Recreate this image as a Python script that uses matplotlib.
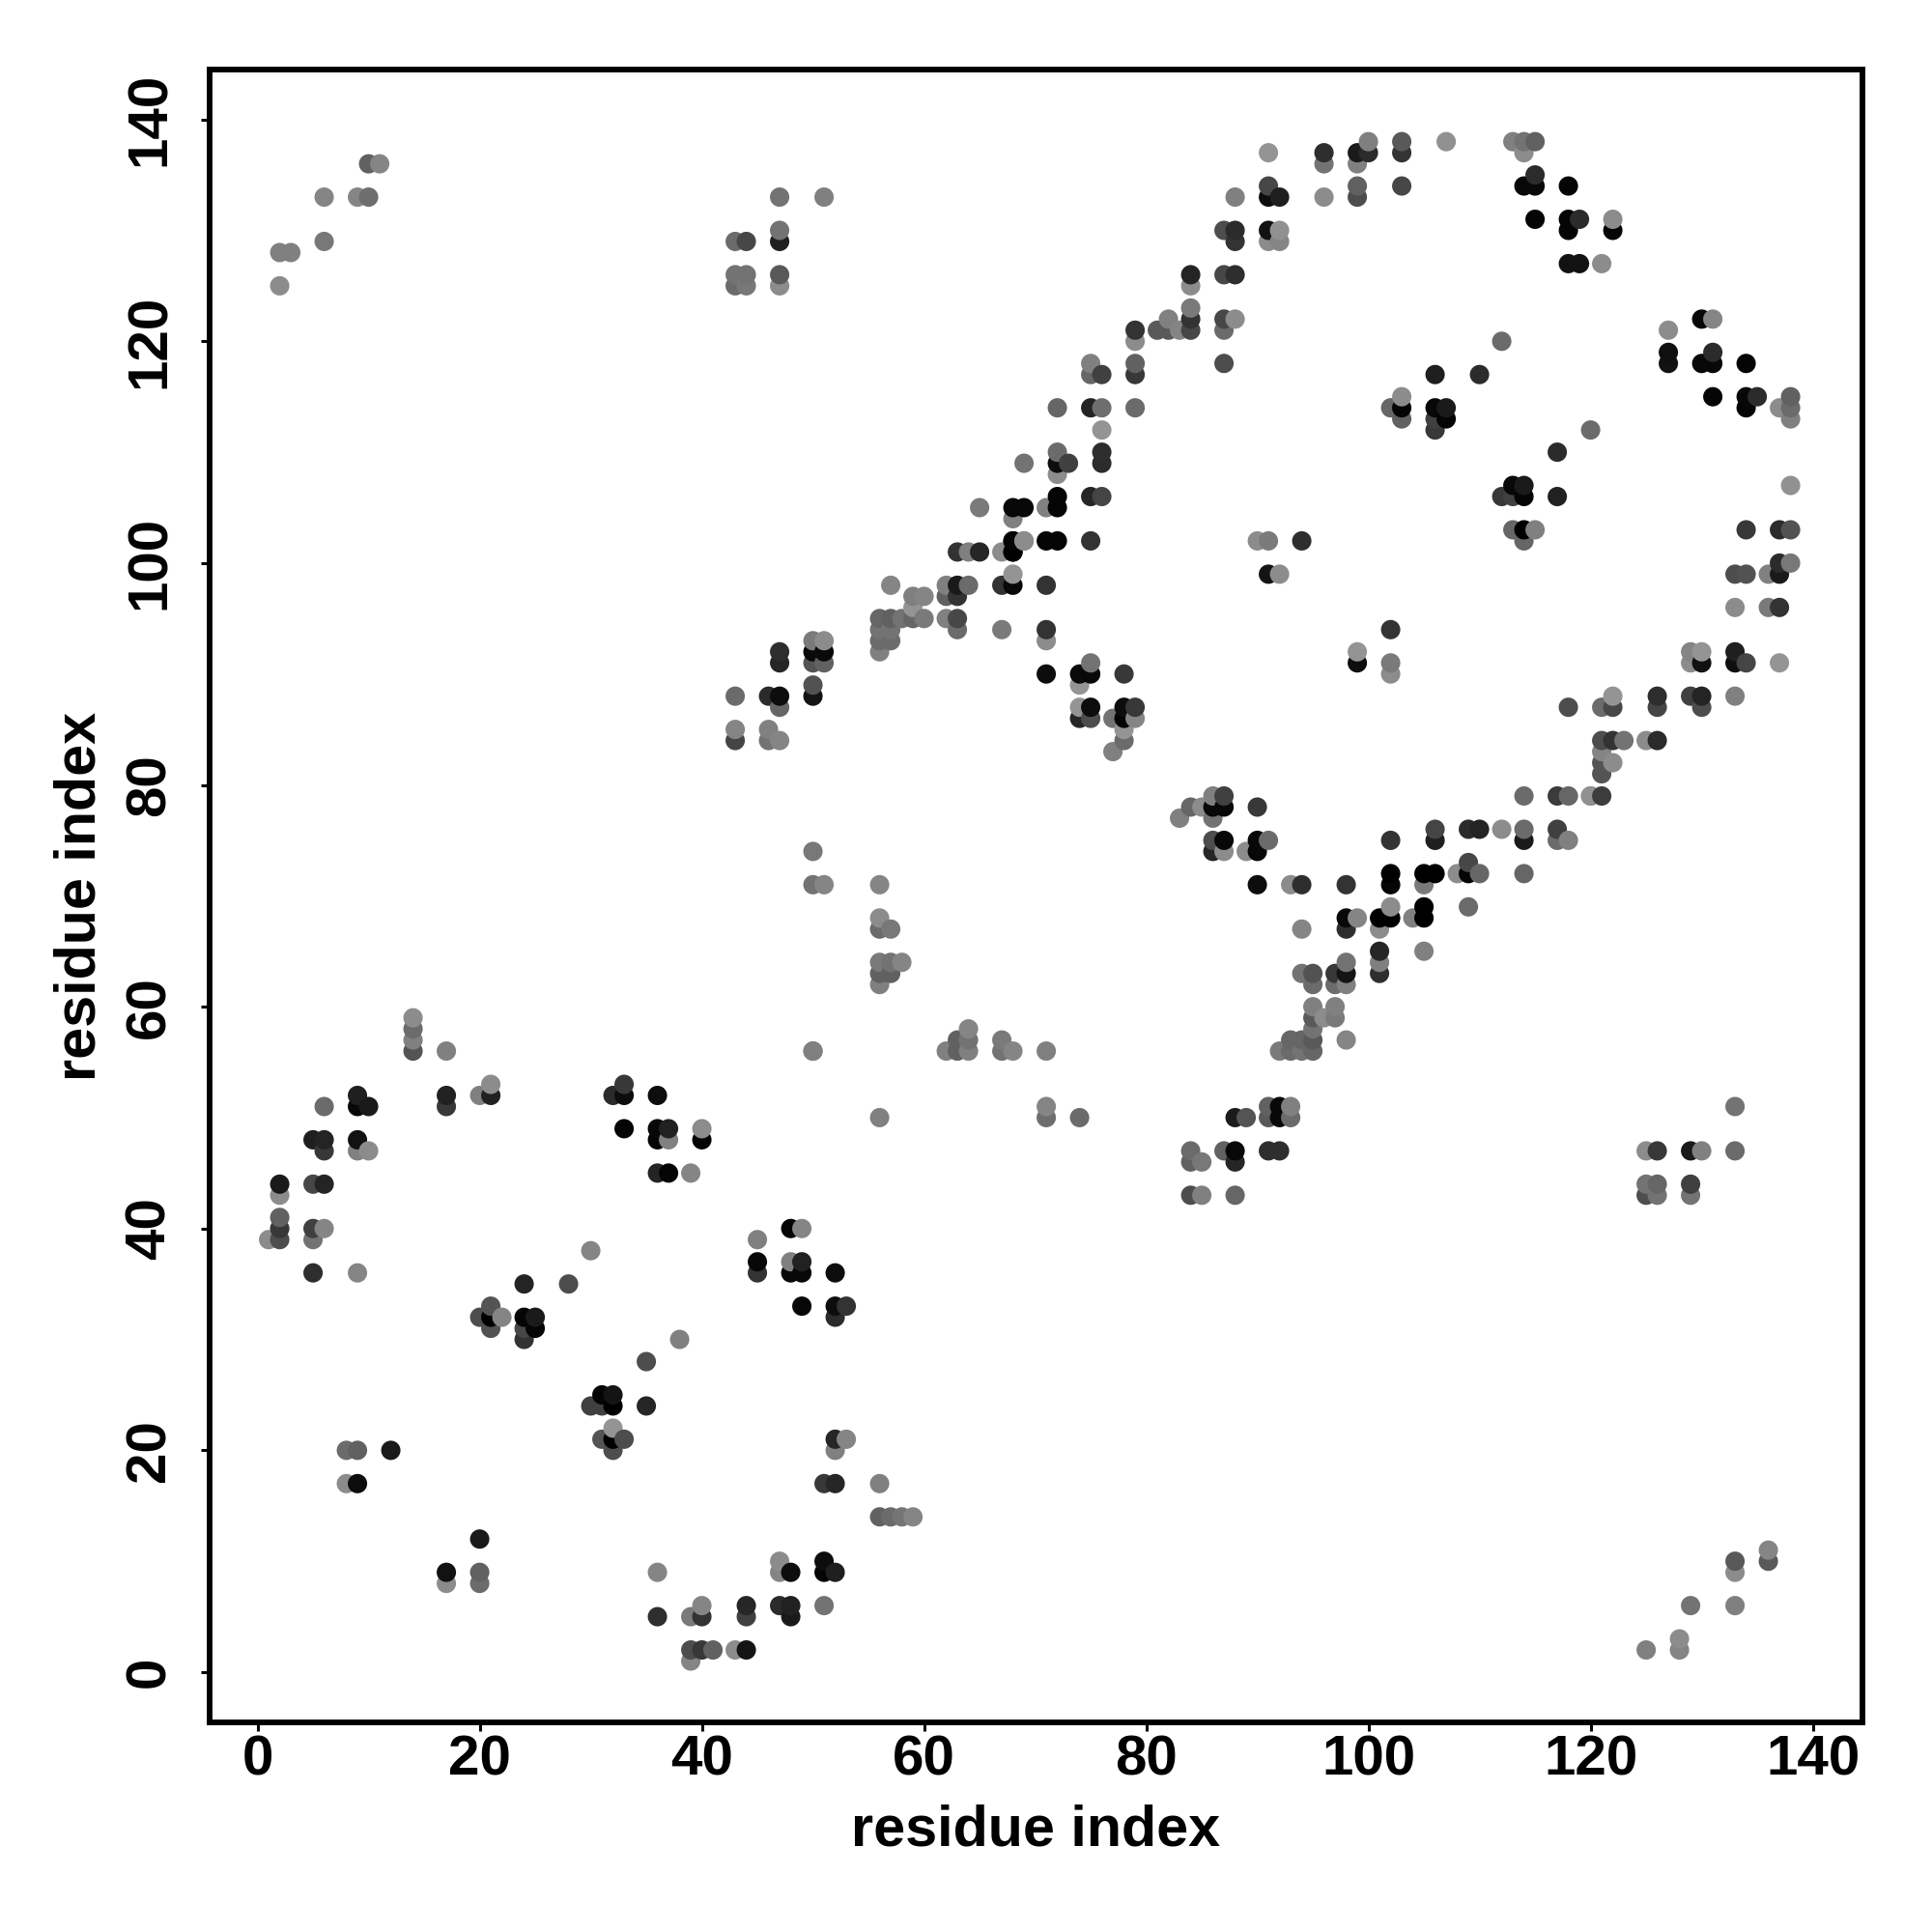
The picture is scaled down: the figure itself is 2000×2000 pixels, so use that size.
#!/usr/bin/env python3
"""Residue contact map drawn as grey dots, later residues painted on top."""
import numpy as np
import matplotlib
matplotlib.use("Agg")
import matplotlib.pyplot as plt

plt.rcParams["font.family"] = ["Liberation Sans", "DejaVu Sans"]
plt.rcParams["font.weight"] = "bold"

# lower left block
low_i = [14, 14, 14, 14, 17, 21, 20, 21, 17, 17,
         6, 9, 9, 10, 5, 6, 6, 9, 9, 10,
         2, 2, 5, 6, 2, 2, 2, 1, 5, 6,
         5, 5, 9, 30, 24, 28, 21, 20, 21, 22,
         21, 24, 25, 24, 25, 24, 38, 33, 32, 33,
         36, 33, 36, 37, 36, 37, 40, 40, 36, 37,
         39, 45, 45, 45, 48, 49, 48, 49, 48, 49,
         52, 49, 52, 53, 52,
         8, 9, 12, 8, 9, 20, 17, 17, 20, 20,
         35, 31, 32, 30, 31, 32, 35, 32, 31, 32,
         33, 32, 36, 36, 39, 40, 40, 44, 44, 39,
         39, 40, 41, 43, 44, 47, 47, 48, 47, 48,
         48, 51, 51, 52, 51, 52, 53, 52, 51, 52,
         56, 56, 57, 58, 59]
low_j = [59, 58, 57, 56, 56, 53, 52, 52, 52, 51,
         51, 52, 51, 51, 48, 48, 47, 48, 47, 47,
         44, 43, 44, 44, 41, 40, 39, 39, 40, 40,
         39, 36, 36, 38, 35, 35, 33, 32, 32, 32,
         31, 32, 32, 31, 31, 30, 30, 53, 52, 52,
         52, 49, 49, 49, 48, 48, 49, 48, 45, 45,
         45, 39, 37, 36, 40, 40, 37, 37, 36, 36,
         36, 33, 33, 33, 32,
         20, 20, 20, 17, 17, 12, 9, 8, 9, 8,
         28, 25, 25, 24, 24, 24, 24, 22, 21, 21,
         21, 20, 9, 5, 5, 6, 5, 6, 5, 2,
         1, 2, 2, 2, 2, 10, 9, 9, 6, 6,
         5, 10, 9, 9, 6, 21, 21, 20, 17, 17,
         17, 14, 14, 14, 14]
low_g = [.55, .42, .50, .33, .50, .55, .50, .13, .13, .22,
         .42, .12, .03, .10, .12, .14, .22, .07, .50, .55,
         .10, .55, .28, .14, .38, .22, .30, .55, .25, .52,
         .45, .18, .52, .52, .14, .30, .33, .30, .00, .52,
         .32, .02, .10, .28, .02, .20, .50, .22, .17, .05,
         .05, .02, .03, .13, .02, .50, .55, .02, .14, .02,
         .52, .50, .03, .20, .02, .52, .50, .13, .03, .03,
         .05, .03, .05, .20, .17,
         .42, .38, .10, .55, .05, .10, .07, .55, .38, .42,
         .30, .02, .08, .25, .25, .00, .15, .58, .33, .00,
         .30, .30, .52, .18, .48, .52, .20, .15, .25, .30,
         .52, .22, .38, .55, .08, .55, .52, .05, .17, .13,
         .10, .05, .02, .12, .45, .15, .52, .50, .22, .15,
         .50, .38, .42, .46, .52]

# top left and middle left blocks
top_i = [10, 11, 6, 9, 10, 6, 2, 3, 2,
         47, 51, 47, 47, 43, 44, 43, 44, 47, 43, 44, 47,
         50, 50, 51, 56, 56, 56, 57, 56, 57, 58, 56, 57, 56,
         50, 62, 63, 63, 64, 64, 64, 67, 67, 68, 71, 71, 74, 56]
top_j = [136, 136, 133, 133, 133, 129, 128, 128, 125,
         133, 133, 130, 129, 129, 129, 126, 126, 126, 125, 125, 125,
         74, 71, 71, 71, 68, 67, 67, 64, 64, 64, 63, 63, 62,
         56, 56, 57, 56, 58, 57, 56, 57, 56, 56, 56, 51, 50, 50]
top_g = [.38, .52, .52, .52, .43, .47, .50, .50, .55,
         .45, .50, .45, .12, .42, .28, .45, .45, .35, .42, .47, .55,
         .47, .45, .52, .52, .55, .42, .47, .48, .45, .52, .38, .38, .50,
         .50, .50, .38, .38, .52, .45, .50, .48, .45, .52, .50, .52, .42, .50]
top2_i = [71, 50]
top2_j = [50, 56]
top2_g = [.43, .50]

# lower diagonal arm, residues 43 to 79
arm_i = [43, 43, 43, 46, 47, 47, 46, 46, 47, 47,
         47, 50, 50, 50, 51, 50, 51, 50, 51, 56,
         57, 58, 59, 60, 59, 59, 60, 57, 56, 57,
         56, 57, 56, 62, 63, 64, 62, 63, 62, 63,
         63, 67, 63, 64, 65, 67, 68, 68, 69, 67,
         68, 68, 71, 71, 71, 71, 74, 75, 75, 74,
         78, 74, 75, 74, 75, 77, 78, 79, 78, 79,
         78, 78, 77, 71, 72, 75]
arm_j = [88, 85, 84, 88, 88, 87, 85, 84, 84, 92,
         91, 89, 88, 93, 93, 92, 92, 91, 91, 95,
         95, 95, 95, 95, 96, 97, 97, 98, 94, 94,
         93, 93, 92, 98, 98, 98, 97, 97, 95, 95,
         94, 94, 101, 101, 101, 101, 101, 102, 102, 98,
         98, 99, 98, 94, 93, 90, 90, 90, 91, 89,
         90, 87, 87, 86, 86, 86, 87, 87, 86, 86,
         85, 84, 83, 102, 102, 102]
arm_g = [.42, .52, .27, .17, .05, .40, .50, .45, .52, .18,
         .15, .32, .08, .48, .55, .04, .04, .33, .38, .40,
         .38, .45, .40, .48, .58, .50, .52, .52, .45, .45,
         .42, .42, .50, .50, .10, .42, .38, .20, .50, .28,
         .42, .48, .20, .50, .15, .55, .00, .02, .55, .20,
         .03, .58, .20, .20, .55, .05, .04, .03, .45, .58,
         .22, .58, .05, .15, .30, .45, .05, .22, .02, .52,
         .58, .42, .50, .02, .02, .20]

# upper diagonal arm, residues 65 to 103
up_i = [91, 96, 96, 99, 100, 100, 99, 103, 103, 103,
        91, 91, 92, 88, 96, 99, 99, 87, 88, 88,
        91, 92, 91, 92, 84, 84, 87, 88, 84, 84,
        84, 82, 81, 82, 83, 87, 88, 87, 87, 79,
        79, 79, 79, 75, 75, 76, 72, 75, 76, 79,
        76, 72, 72, 73, 72, 69, 76, 76, 72, 72,
        71, 75, 76, 68, 69, 68, 65, 68, 69, 68,
        90, 91, 94, 102, 103, 103, 103, 91, 92]
up_j = [137, 137, 136, 137, 137, 138, 136, 138, 137, 134,
        134, 133, 133, 133, 133, 134, 133, 130, 130, 129,
        130, 130, 129, 129, 126, 125, 126, 126, 123, 122,
        121, 122, 121, 121, 121, 122, 122, 121, 118, 121,
        120, 118, 117, 118, 117, 117, 114, 114, 114, 114,
        112, 110, 109, 109, 108, 109, 110, 109, 106, 105,
        105, 106, 106, 105, 105, 104, 105, 102, 102, 101,
        102, 102, 102, 114, 115, 114, 113, 99, 99]
up_g = [.58, .18, .45, .10, .17, .50, .50, .35, .20, .28,
        .28, .05, .12, .50, .55, .38, .30, .30, .17, .20,
        .07, .57, .55, .52, .14, .55, .28, .18, .48, .20,
        .28, .50, .35, .35, .52, .28, .55, .42, .30, .20,
        .55, .38, .22, .50, .40, .25, .40, .14, .43, .42,
        .58, .42, .05, .25, .55, .45, .18, .17, .02, .02,
        .50, .15, .27, .03, .03, .50, .48, .02, .55, .00,
        .55, .48, .18, .40, .55, .02, .38, .08, .55]

# middle diagonal, residues 83 to 138
mid_i = [83, 84, 85, 86, 87, 86, 87, 86, 90,
         86, 87, 86, 87, 89, 90, 91, 90, 90, 93,
         94, 98, 94, 98, 99, 98, 102, 102, 106, 106,
         105, 106, 105, 108, 109, 109, 110, 109, 109, 110,
         112, 114, 114, 114, 114, 117, 118, 117, 117, 118,
         120, 101, 102, 102, 101, 104, 105, 105, 105, 101,
         101, 101, 98, 98, 97, 97, 98, 94, 95, 95,
         95, 97, 96, 97, 95, 95, 98, 95, 93, 94,
         92, 93, 94, 95, 88, 89, 91, 91, 92, 92,
         93, 93, 84, 84, 85, 87, 88, 88, 84, 85,
         88, 91, 92, 121, 102]
mid_j = [77, 78, 78, 79, 79, 78, 78, 77, 78,
         75, 75, 74, 74, 74, 75, 75, 74, 71, 71,
         71, 71, 67, 68, 68, 67, 75, 72, 76, 75,
         72, 72, 71, 72, 73, 72, 72, 69, 76, 76,
         76, 76, 75, 79, 72, 79, 79, 76, 75, 75,
         79, 68, 69, 68, 67, 68, 69, 68, 65, 65,
         64, 63, 64, 63, 63, 62, 62, 63, 63, 62,
         60, 60, 59, 59, 59, 58, 57, 57, 57, 57,
         56, 56, 56, 56, 50, 50, 51, 50, 51, 50,
         51, 50, 47, 46, 46, 47, 47, 46, 43, 43,
         43, 47, 47, 79, 71]
mid_g = [.50, .40, .55, .50, .25, .03, .03, .45, .22,
         .30, .03, .15, .55, .55, .03, .42, .03, .05, .55,
         .18, .20, .52, .03, .52, .18, .20, .00, .27, .12,
         .00, .00, .48, .55, .28, .02, .40, .42, .17, .14,
         .55, .42, .10, .42, .40, .23, .40, .25, .42, .50,
         .55, .00, .55, .00, .55, .50, .00, .00, .50, .15,
         .50, .18, .45, .08, .22, .42, .50, .45, .32, .42,
         .50, .50, .55, .48, .35, .45, .52, .35, .40, .40,
         .48, .42, .45, .40, .10, .33, .38, .35, .03, .03,
         .50, .42, .42, .38, .47, .38, .03, .15, .30, .50,
         .40, .18, .18, .24, .02]

# right hand blocks, residues 99 to 138
right_i = [107, 113, 114, 115, 114, 115, 114, 115, 118, 115,
           118, 119, 118, 122, 122, 118, 119, 121, 127, 130,
           131, 127, 127, 131, 130, 131, 134, 131, 134, 135,
           134, 138, 137, 138, 138, 112, 106, 110, 120, 117,
           117, 113, 114, 112, 113, 114, 113, 114, 115, 114,
           138, 134, 137, 138, 133, 134, 136, 137, 138, 137,
           133, 136, 137, 106, 107, 106, 107, 106, 102, 102,
           102, 99, 99, 129, 130, 129, 130, 133, 133, 134,
           137, 118, 121, 122, 122, 126, 126, 129, 130, 130,
           133, 121, 122, 123, 125, 126, 121, 121, 122, 121,
           120]
right_j = [138, 138, 138, 138, 137, 135, 134, 134, 134, 131,
           131, 131, 130, 131, 130, 127, 127, 127, 121, 122,
           122, 119, 118, 119, 118, 118, 118, 115, 115, 115,
           114, 115, 114, 114, 113, 120, 117, 117, 112, 110,
           106, 107, 107, 106, 106, 106, 103, 103, 103, 102,
           107, 103, 103, 103, 99, 99, 99, 100, 100, 99,
           96, 96, 96, 114, 114, 113, 113, 112, 94, 91,
           90, 92, 91, 92, 92, 91, 91, 92, 91, 91,
           91, 87, 87, 88, 87, 88, 87, 88, 88, 87,
           88, 84, 84, 84, 84, 84, 83, 82, 82, 81,
           79]
right_g = [.57, .50, .45, .38, .55, .17, .03, .03, .02, .02,
           .02, .17, .02, .55, .02, .07, .07, .55, .55, .03,
           .52, .06, .07, .17, .03, .03, .02, .02, .03, .17,
           .02, .38, .55, .42, .50, .42, .12, .17, .42, .17,
           .13, .03, .10, .22, .25, .02, .40, .00, .50, .40,
           .57, .22, .17, .32, .30, .32, .50, .17, .47, .10,
           .55, .48, .20, .03, .10, .25, .02, .22, .20, .48,
           .55, .58, .05, .52, .58, .55, .07, .12, .06, .27,
           .58, .30, .42, .58, .28, .18, .27, .25, .14, .30,
           .50, .30, .20, .45, .55, .17, .52, .33, .55, .33,
           .57]

# lower right corner
corner_i = [125, 126, 125, 126, 125, 126, 129, 130, 129, 129,
            133, 133, 125, 128, 128, 129, 133, 133, 133, 136, 136]
corner_j = [47, 47, 44, 44, 43, 43, 47, 47, 44, 43,
            51, 47, 2, 3, 2, 6, 6, 9, 10, 11, 10]
corner_g = [.55, .22, .45, .40, .30, .45, .10, .50, .25, .45,
            .45, .42, .50, .55, .52, .45, .50, .55, .35, .52, .35]

x_ticks = [0, 20, 40, 60, 80, 100, 120, 140]
y_ticks = [0, 20, 40, 60, 80, 100, 120, 140]

res_i = np.array(low_i + top_i + top2_i + arm_i + up_i + mid_i + right_i + corner_i)
res_j = np.array(low_j + top_j + top2_j + arm_j + up_j + mid_j + right_j + corner_j)
grey = np.array(low_g + top_g + top2_g + arm_g + up_g + mid_g + right_g + corner_g)

# painted in residue order so higher i, then higher j, land on top
order = np.lexsort((res_j, res_i))
res_i, res_j, grey = res_i[order], res_j[order], grey[order]

fig = plt.figure(figsize=(10, 10), dpi=200)
ax = fig.add_axes([217 / 2000, 1 - 1783 / 2000, (1928 - 217) / 2000, (1783 - 72) / 2000])
ax.scatter(res_i, res_j, s=52, c=[str(g) for g in grey], linewidths=0, zorder=3)

ax.set_xlim(-4.31, 144.47)
ax.set_ylim(-4.53, 144.5)
ax.set_xticks(x_ticks)
ax.set_yticks(y_ticks)
ax.tick_params(axis="both", length=3.4, width=1.1, labelsize=21)
ax.tick_params(axis="x", pad=1)
ax.tick_params(axis="y", pad=9)
for lab in ax.get_yticklabels():
    lab.set_rotation(90)
    lab.set_va("center")
for s in ax.spines.values():
    s.set_linewidth(2.1)

ax.set_xlabel("residue index", fontsize=21.4, fontweight="bold")
ax.set_ylabel("residue index", fontsize=21.4, fontweight="bold")
ax.xaxis.set_label_coords(0.5, -0.0495)
ax.yaxis.set_label_coords(-0.0625, 0.5)

plt.savefig("out.png", dpi=200)
plt.close(fig)
